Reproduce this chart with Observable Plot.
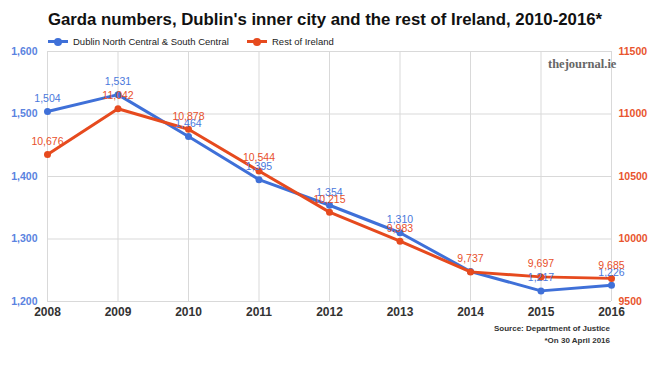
<!DOCTYPE html>
<html>
<head>
<meta charset="utf-8">
<script src="https://cdn.jsdelivr.net/npm/d3@7"></script>
<script src="https://cdn.jsdelivr.net/npm/@observablehq/plot@0.6"></script>
<style>
  html, body { margin: 0; padding: 0; background: #fff; }
  #wrap { position: relative; width: 650px; height: 367px; font-family: Arial, "Liberation Sans", sans-serif; overflow: hidden; }
  #chart { position: absolute; left: 0; top: 0; }
  .abs { position: absolute; white-space: nowrap; }
  #title { left: 0; width: 650px; text-align: center; top: 10px; font-size: 16.8px; font-weight: bold; color: #111; }
  .leg { top: 36px; font-size: 9.5px; color: #222; display: flex; align-items: center; }
  .sw { position: relative; width: 20px; height: 3px; margin-right: 5px; }
  .sw::after { content: ""; position: absolute; left: 6px; top: -2.5px; width: 8px; height: 8px; border-radius: 50%; background: inherit; }
  #wm { left: 548px; top: 57px; font-family: "Liberation Serif", "DejaVu Serif", serif; font-weight: bold; font-size: 12.5px; color: #666; }
  .src { font-size: 8px; font-weight: bold; color: #333; text-align: right; right: 40px; }
</style>
</head>
<body>
<div id="wrap">
  <div id="chart"></div>
  <div id="title" class="abs">Garda numbers, Dublin's inner city and the rest of Ireland, 2010-2016*</div>
  <div class="abs leg" style="left:48px"><span class="sw" style="background:#3f70d8"></span>Dublin North Central &amp; South Central</div>
  <div class="abs leg" style="left:247px"><span class="sw" style="background:#e64a1e"></span>Rest of Ireland</div>
  <div id="wm" class="abs">thejournal.ie</div>
  <div class="abs src" style="top:324px">Source: Department of Justice</div>
  <div class="abs src" style="top:336px">*On 30 April 2016</div>
</div>
<script>
const years = [2008, 2009, 2010, 2011, 2012, 2013, 2014, 2015, 2016];
const dublin = [1504, 1531, 1464, 1395, 1354, 1310, 1248, 1217, 1226];
const restOfIreland = [10676, 11042, 10878, 10544, 10215, 9983, 9737, 9697, 9685];
const leftTicks = [1200, 1300, 1400, 1500, 1600];
const rightTicks = [9500, 10000, 10500, 11000, 11500];
// labels shown in the reference (the 2014 Dublin label is hidden there)
const dublinLabelShown = [true, true, true, true, true, true, false, true, true];

const blue = "#3f70d8";
const red = "#e64a1e";

// map right-axis values onto the left-axis domain
const toLeft = v => 1200 + (v - 9500) * (400 / 2000);
const toRight = v => 9500 + (v - 1200) * (2000 / 400);

const dubData = years.map((y, i) => ({year: y, value: dublin[i], show: dublinLabelShown[i]}));
const restData = years.map((y, i) => ({year: y, value: restOfIreland[i], left: toLeft(restOfIreland[i])}));

const fmt = d3.format(",");

const chart = Plot.plot({
  width: 650,
  height: 367,
  marginLeft: 47,
  marginRight: 39,
  marginTop: 51,
  marginBottom: 66,
  style: {fontFamily: "Arial, 'Liberation Sans', sans-serif", background: "transparent"},
  x: {type: "linear", domain: [2008, 2016], label: null},
  y: {domain: [1200, 1600], label: null},
  marks: [
    Plot.gridY(leftTicks, {stroke: "#d9d9d9", strokeOpacity: 1, strokeWidth: 1}),
    Plot.gridX(years, {stroke: "#d9d9d9", strokeOpacity: 1, strokeWidth: 1}),
    Plot.axisX(years, {tickFormat: d => String(d), tickSize: 0, fontSize: 12, fontWeight: "bold", fill: "#333", dy: 2, tickPadding: 4, label: null}),
    Plot.axisY(leftTicks, {anchor: "left", tickFormat: fmt, tickSize: 0, tickPadding: 10, fontSize: 10.5, fontWeight: "bold", fill: "#5a83e0", label: null}),
    Plot.axisY(leftTicks, {anchor: "right", tickFormat: d => String(toRight(d)), tickSize: 0, tickPadding: 7, fontSize: 10.5, fontWeight: "bold", fill: "#e8552e", label: null}),
    Plot.line(dubData, {x: "year", y: "value", stroke: blue, strokeWidth: 3}),
    Plot.dot(dubData, {x: "year", y: "value", fill: blue, r: 3.5}),
    Plot.line(restData, {x: "year", y: "left", stroke: red, strokeWidth: 3}),
    Plot.dot(restData, {x: "year", y: "left", fill: red, r: 3.5}),
    Plot.text(dubData.filter(d => d.show), {x: "year", y: "value", text: d => fmt(d.value), dy: -13, fill: "#4a78dc", fontSize: 10.5}),
    Plot.text(restData, {x: "year", y: "left", text: d => fmt(d.value), dy: -13, fill: "#e8502a", fontSize: 10.5})
  ]
});
document.getElementById("chart").appendChild(chart);
</script>
</body>
</html>
